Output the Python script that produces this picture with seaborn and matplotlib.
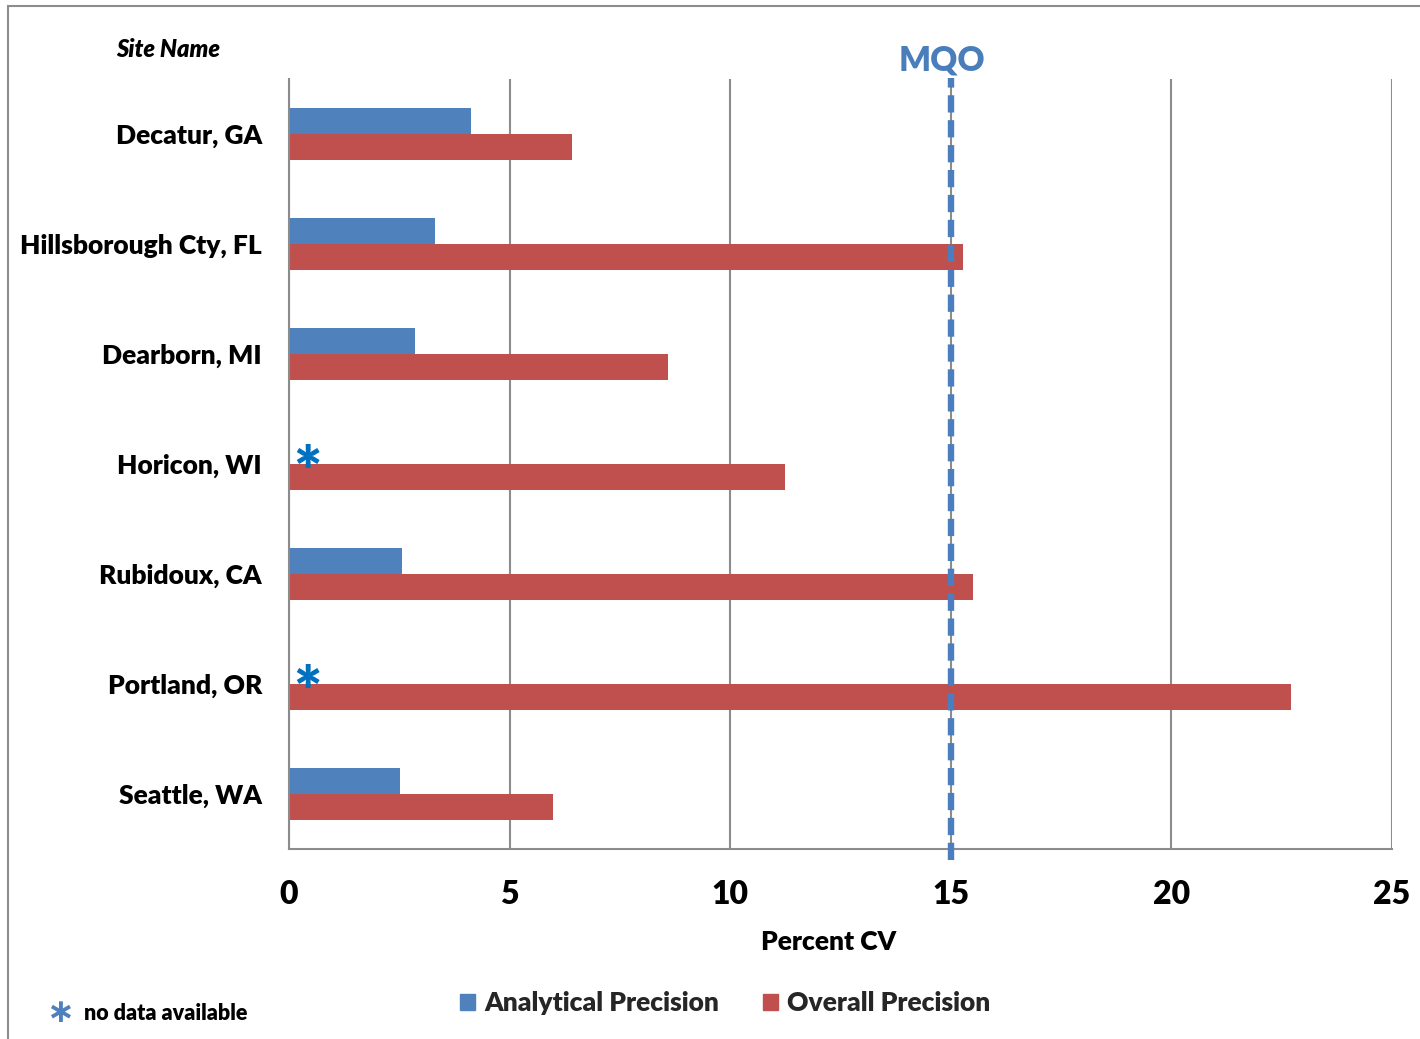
import numpy as np
import pandas as pd
import matplotlib
matplotlib.use("Agg")
import matplotlib.pyplot as plt
from matplotlib.patches import Patch, Rectangle
from matplotlib.transforms import blended_transform_factory
import seaborn as sns

# Precision results per monitoring site (percent CV)
sites = ["Decatur, GA", "Hillsborough Cty, FL", "Dearborn, MI", "Horicon, WI",
         "Rubidoux, CA", "Portland, OR", "Seattle, WA"]
analytical = [4.12, 3.31, 2.86, np.nan, 2.56, np.nan, 2.52]
overall = [6.41, 15.28, 8.59, 11.24, 15.50, 22.71, 5.98]
series = ["Analytical Precision", "Overall Precision"]
colors = ["#4F81BD", "#C0504D"]
mqo = 15
xticks = [0, 5, 10, 15, 20, 25]

sns.set_style("white")
plt.rcParams["font.family"] = ["Lato", "DejaVu Sans"]
W = "heavy"
plt.rcParams["font.weight"] = W

df = pd.DataFrame({
    "Site": sites * 2,
    "Measure": [series[0]] * len(sites) + [series[1]] * len(sites),
    "CV": analytical + overall,
})

GRAY = "#8C8C8C"
fig = plt.figure(figsize=(14.2, 10.39), dpi=100)
ax = fig.add_axes([289 / 1420, 1 - 849 / 1039, 1103 / 1420, 770 / 1039])

sns.barplot(data=df, y="Site", x="CV", hue="Measure", order=sites,
            hue_order=series, palette=colors, width=0.465, orient="h",
            saturation=1, linewidth=0, errorbar=None, legend=False, ax=ax)

ax.set_xlim(0, 25)
ax.set_ylim(6.5, -0.5)

# axes styling
for s in ["top", "right"]:
    ax.spines[s].set_visible(False)
for s in ["left", "bottom"]:
    ax.spines[s].set_color(GRAY)
    ax.spines[s].set_linewidth(1.5)
ax.set_xticks(xticks)
ax.set_xticklabels([str(t) for t in xticks])
ax.xaxis.grid(True, color=GRAY, lw=1.5)
ax.yaxis.grid(False)
ax.set_axisbelow(True)
ax.tick_params(axis="x", which="major", direction="out", length=6.5, width=1.5,
               color=GRAY, pad=16, labelsize=23)
ax.set_yticks(np.arange(len(sites)))
ax.set_yticks(np.arange(-0.5, len(sites)), minor=True)
ax.tick_params(axis="y", which="major", length=0, pad=19.5, labelsize=19)
ax.tick_params(axis="y", which="minor", direction="out", length=5.8, width=1.5,
               color=GRAY)
for lab in ax.get_xticklabels() + ax.get_yticklabels():
    lab.set_fontweight(W)
    lab.set_color("black")

ax.set_xlabel("Percent CV", fontsize=19, fontweight=W, color="black")
ax.xaxis.set_label_coords(0.4896, -0.1208)
ax.xaxis.label.set_va("center")
ax.set_ylabel("Site Name", fontsize=17, fontweight=W, fontstyle="italic",
              rotation=0, color="black")
ax.yaxis.set_label_coords(-0.1097, 1.0377)
ax.yaxis.label.set_va("center")
ax.yaxis.label.set_ha("center")

# MQO reference line
ax.axvline(mqo, ymin=-0.0143, ymax=1.0013, color="#4A7EBF", lw=4.6,
           dashes=(2.7, 1.2), dash_capstyle="butt", clip_on=False, zorder=5)
trans = blended_transform_factory(ax.transData, ax.transAxes)
ax.text(mqo - 0.2, 1.0234, "MQO", transform=trans, ha="center", va="center",
        fontsize=24, fontweight=W, color="#4A7EBB")

# markers for sites without analytical data
for i, v in enumerate(analytical):
    if np.isnan(v):
        ax.text(0.41, i + 0.10, "*", ha="center", va="center", fontsize=48,
                fontweight=W, color="#0070C0")

# legend
handles = [Patch(color=c, label=s) for c, s in zip(colors, series)]
fig.legend(handles=handles, loc="center", bbox_to_anchor=(725 / 1420, 1 - 1003 / 1039),
           ncol=2, frameon=False, fontsize=19, handlelength=0.57, handleheight=0.57,
           handletextpad=0.34, columnspacing=1.65, borderpad=0)

fig.text(60 / 1420, 1 - 1013 / 1039, "\u2217", ha="center", va="center", fontsize=24,
         fontweight="bold", family="DejaVu Sans", color="#4F81BD")
fig.text(84 / 1420, 1 - 1013 / 1039, "no data available", ha="left", va="center",
         fontsize=15.5, fontweight=W, color="black")

# chart border
fig.patches.append(Rectangle((8 / 1420, -0.05), 1.0, 0.05 + 1 - 6 / 1039,
                             transform=fig.transFigure, fill=False, ec=GRAY, lw=1.5))

fig.savefig("out.png", dpi=100)
